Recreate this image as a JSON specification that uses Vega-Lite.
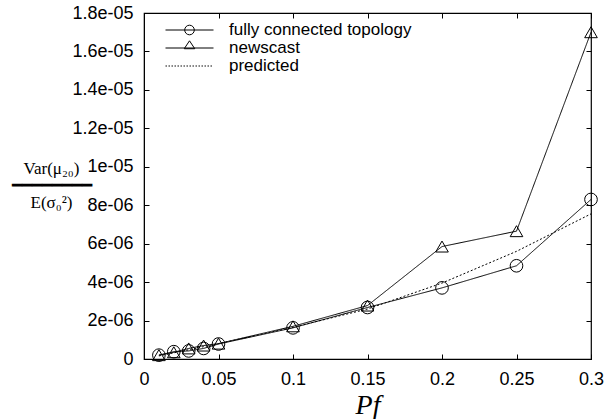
{
  "$schema": "https://vega.github.io/schema/vega-lite/v6.json",
  "width": 447,
  "height": 346,
  "autosize": "none",
  "padding": {"left": 144, "top": 13, "right": 13, "bottom": 60},
  "config": {
    "view": {"stroke": "black", "strokeWidth": 1.2},
    "font": "Liberation Sans",
    "axis": {"domainColor": "black", "labelColor": "black", "labelFontSize": 18, "labelFont": "Liberation Sans", "titleColor": "black", "labelFlush": false, "labelOverlap": false, "ticks": false, "grid": true, "gridColor": "black", "gridOpacity": 1, "gridWidth": 1}
  },
  "data": {"values": [
    {"P": 0.01, "v": 2.0e-7, "series": "fully connected topology"},
    {"P": 0.02, "v": 3.8e-7, "series": "fully connected topology"},
    {"P": 0.03, "v": 4.2e-7, "series": "fully connected topology"},
    {"P": 0.04, "v": 5.5e-7, "series": "fully connected topology"},
    {"P": 0.05, "v": 7.8e-7, "series": "fully connected topology"},
    {"P": 0.1, "v": 1.62e-6, "series": "fully connected topology"},
    {"P": 0.15, "v": 2.68e-6, "series": "fully connected topology"},
    {"P": 0.2, "v": 3.7e-6, "series": "fully connected topology"},
    {"P": 0.25, "v": 4.85e-6, "series": "fully connected topology"},
    {"P": 0.3, "v": 8.3e-6, "series": "fully connected topology"},
    {"P": 0.01, "v": 2.0e-7, "series": "newscast"},
    {"P": 0.02, "v": 3.5e-7, "series": "newscast"},
    {"P": 0.03, "v": 5.5e-7, "series": "newscast"},
    {"P": 0.04, "v": 7.0e-7, "series": "newscast"},
    {"P": 0.05, "v": 8.0e-7, "series": "newscast"},
    {"P": 0.1, "v": 1.7e-6, "series": "newscast"},
    {"P": 0.15, "v": 2.78e-6, "series": "newscast"},
    {"P": 0.2, "v": 5.85e-6, "series": "newscast"},
    {"P": 0.25, "v": 6.65e-6, "series": "newscast"},
    {"P": 0.3, "v": 1.7e-5, "series": "newscast"},
    {"P": 0.01, "v": 1.6e-7, "series": "predicted"},
    {"P": 0.02, "v": 3.2e-7, "series": "predicted"},
    {"P": 0.03, "v": 4.8e-7, "series": "predicted"},
    {"P": 0.04, "v": 6.4e-7, "series": "predicted"},
    {"P": 0.05, "v": 8.0e-7, "series": "predicted"},
    {"P": 0.1, "v": 1.65e-6, "series": "predicted"},
    {"P": 0.15, "v": 2.6e-6, "series": "predicted"},
    {"P": 0.2, "v": 3.95e-6, "series": "predicted"},
    {"P": 0.25, "v": 5.6e-6, "series": "predicted"},
    {"P": 0.3, "v": 7.55e-6, "series": "predicted"}
  ]},
  "encoding": {
    "x": {"field": "P", "type": "quantitative", "scale": {"domain": [0, 0.3], "nice": false},
      "axis": {"orient": "bottom", "values": [0, 0.05, 0.1, 0.15, 0.2, 0.25, 0.3], "format": "~g", "gridDash": [5, 336], "labelPadding": 11, "title": "Pf", "titleFont": "Liberation Serif", "titleFontStyle": "italic", "titleFontWeight": "normal", "titleFontSize": 28, "titleBaseline": "alphabetic", "titleY": 54}},
    "y": {"field": "v", "type": "quantitative", "scale": {"domain": [0, 1.8e-5], "nice": false},
      "axis": {"orient": "left", "values": [0, 2e-6, 4e-6, 6e-6, 8e-6, 1e-5, 1.2e-5, 1.4e-5, 1.6e-5, 1.8e-5], "labelExpr": "datum.value == 0 ? '0' : replace(format(datum.value, '~e'), 'e-', 'e-0')", "gridDash": [5, 437], "labelPadding": 11, "title": ["Var(μ₂₀)", "━━━━━━━━", "E(σ₀²)"], "titleAngle": 0, "titleAlign": "center", "titleBaseline": "middle", "titleX": -93, "titleY": 155, "titleFont": "Liberation Serif", "titleFontWeight": "normal", "titleFontSize": 17, "titleLineHeight": 17}}
  },
  "layer": [
    {
      "mark": {"type": "line", "stroke": "black", "strokeWidth": 1},
      "encoding": {
        "strokeDash": {"field": "series", "type": "nominal", "scale": {"domain": ["fully connected topology", "newscast", "predicted"], "range": [[1, 0], [1, 0], [2, 2]]}, "legend": null}
      }
    },
    {
      "transform": [{"filter": "datum.series != 'predicted'"}],
      "mark": {"type": "point", "filled": false, "stroke": "black", "strokeWidth": 1, "size": 160, "opacity": 1},
      "encoding": {
        "shape": {"field": "series", "type": "nominal", "scale": {"domain": ["fully connected topology", "newscast"], "range": ["circle", "triangle-up"]}, "legend": null}
      }
    },
    {
      "mark": {"type": "point", "filled": false, "opacity": 0},
      "encoding": {
        "shape": {"field": "series", "type": "nominal",
          "scale": {"domain": ["fully connected topology", "newscast", "predicted"],
            "range": [
              "M-1,0H1M0.2,0A0.2,0.2 0 1,1 -0.2,0A0.2,0.2 0 1,1 0.2,0Z",
              "M-1,0H1M0,-0.3L0.22,0.03L-0.22,0.03Z",
              "M-1,0h0.06M-0.875,0h0.06M-0.75,0h0.06M-0.625,0h0.06M-0.5,0h0.06M-0.375,0h0.06M-0.25,0h0.06M-0.125,0h0.06M0,0h0.06M0.125,0h0.06M0.25,0h0.06M0.375,0h0.06M0.5,0h0.06M0.625,0h0.06M0.75,0h0.06M0.875,0h0.06"
            ]},
          "legend": {"title": null, "orient": "none", "legendX": 21, "legendY": 8, "padding": 0, "offset": 0, "clipHeight": 18, "labelFontSize": 17, "labelLimit": 400, "labelFont": "Liberation Sans", "labelColor": "black", "labelOffset": 15, "rowPadding": 0, "symbolSize": 2304, "symbolStrokeWidth": 1, "symbolStrokeColor": "black", "symbolFillColor": "transparent",
            "encode": {"symbols": {"update": {"opacity": {"value": 1}, "stroke": {"value": "black"}, "fill": {"value": "transparent"}, "size": {"value": 2304}}}}}
        }
      }
    }
  ],
  "resolve": {"scale": {"shape": "independent"}}
}
